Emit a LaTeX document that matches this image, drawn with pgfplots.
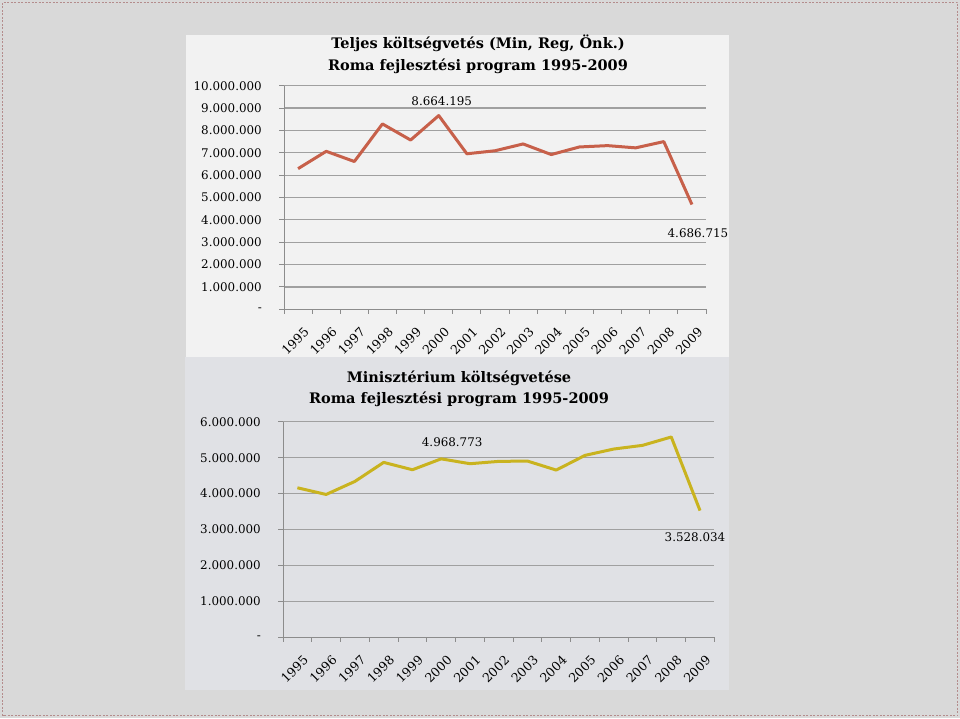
\documentclass[border=0pt]{standalone}
\usepackage{pgfplots}
\pgfplotsset{compat=1.18}
\usepackage{fontspec}
\setmainfont{DejaVu Serif}
\definecolor{bgout}{RGB}{217,217,217}
\definecolor{paneltop}{RGB}{242,242,242}
\definecolor{panelbot}{RGB}{224,225,229}
\definecolor{gridc}{RGB}{160,160,160}
\definecolor{axisc}{RGB}{140,140,140}
\definecolor{redline}{RGB}{199,96,74}
\definecolor{yelline}{RGB}{201,179,31}
\definecolor{borderc}{RGB}{180,140,140}
\newcommand\tickfont{\fontsize{11.9}{13}\selectfont}
\newcommand\xtickfont{\fontsize{12.5}{13}\selectfont}
\newcommand\titlefont{\fontsize{14.5}{17}\selectfont\bfseries}
\pgfplotsset{
  mychart/.style={
    scale only axis,
    clip=false,
    xmin=-0.5, xmax=14.5, ymin=0,
    axis x line*=bottom, axis y line*=left,
    axis line style={axisc, line width=1pt, -},
    xtick={0,1,...,14},
    xticklabels={1995,1996,1997,1998,1999,2000,2001,2002,2003,2004,2005,2006,2007,2008,2009},
    xtick style={draw=none},
    ytick style={axisc, line width=1pt},
    tick align=outside,
    major tick length=5pt,
    ymajorgrids,
    major grid style={gridc, line width=1.2pt},
    scaled y ticks=false,
    tick label style={font=\tickfont, text=black},
    yticklabel style={anchor=east, inner sep=0pt, xshift=-17pt},
    xticklabel style={font=\xtickfont, xshift=5pt, yshift=-12pt, rotate=45, anchor=north east, inner sep=0pt},
  }
}
\begin{document}
\begin{tikzpicture}[x=1pt,y=1pt]
\useasboundingbox (0pt,0pt) rectangle (960pt,718pt);
\fill[bgout] (0pt,0pt) rectangle (960pt,718pt);
\draw[borderc, line width=1pt, dash pattern=on 2pt off 1.5pt] (2.5pt,2.5pt) rectangle (957.5pt,715.5pt);
\fill[paneltop] (186pt,361pt) rectangle (729pt,683pt);
\fill[panelbot] (185pt,28pt) rectangle (729pt,361pt);
% titles
\node[font=\titlefont] at (478pt,675pt) {Teljes költségvetés (Min, Reg, Önk.)};
\node[font=\titlefont] at (478pt,652pt) {Roma fejlesztési program 1995-2009};
\node[font=\titlefont] at (459pt,340pt) {Minisztérium költségvetése};
\node[font=\titlefont] at (459pt,319pt) {Roma fejlesztési program 1995-2009};

% top chart
\begin{axis}[mychart,
  at={(284pt,408.7pt)}, anchor=south west,
  width=422pt, height=223.6pt,
  ymax=10000000,
  ytick={0,1000000,2000000,3000000,4000000,5000000,6000000,7000000,8000000,9000000,10000000},
  yticklabels={-,1.000.000,2.000.000,3.000.000,4.000.000,5.000.000,6.000.000,7.000.000,8.000.000,9.000.000,10.000.000},
]
\addplot[redline, line width=3pt, line join=round, mark=none] coordinates {
 (0,6290000) (1,7065000) (2,6610000) (3,8290000) (4,7570000) (5,8664195)
 (6,6955000) (7,7090000) (8,7395000) (9,6920000) (10,7260000) (11,7320000)
 (12,7220000) (13,7500000) (14,4686715)
};
\pgfplotsinvokeforeach{-0.5,0.5,...,14.5}{\draw[axisc, line width=1pt] (axis cs:#1,0) -- ++(0pt,-5pt);}
\node[font=\tickfont] at (axis cs:5,8664195) [yshift=14.6pt, xshift=3pt] {8.664.195};
\node[font=\tickfont] at (axis cs:14,4686715) [yshift=-28.5pt, xshift=6pt] {4.686.715};
\end{axis}

% bottom chart
\begin{axis}[mychart,
  at={(283pt,80.7pt)}, anchor=south west,
  width=431.4pt, height=215.5pt,
  ymax=6000000,
  ytick={0,1000000,2000000,3000000,4000000,5000000,6000000},
  yticklabels={-,1.000.000,2.000.000,3.000.000,4.000.000,5.000.000,6.000.000},
]
\addplot[yelline, line width=3pt, line join=round, mark=none] coordinates {
 (0,4163000) (1,3977000) (2,4340000) (3,4870000) (4,4665000) (5,4968773)
 (6,4833000) (7,4898000) (8,4907000) (9,4656000) (10,5065000) (11,5242000)
 (12,5344000) (13,5577000) (14,3528034)
};
\pgfplotsinvokeforeach{-0.5,0.5,...,14.5}{\draw[axisc, line width=1pt] (axis cs:#1,0) -- ++(0pt,-5pt);}
\node[font=\tickfont] at (axis cs:5,4968773) [yshift=17pt, xshift=11pt] {4.968.773};
\node[font=\tickfont] at (axis cs:14,3528034) [yshift=-26.4pt, xshift=-5pt] {3.528.034};
\end{axis}
\end{tikzpicture}
\end{document}
